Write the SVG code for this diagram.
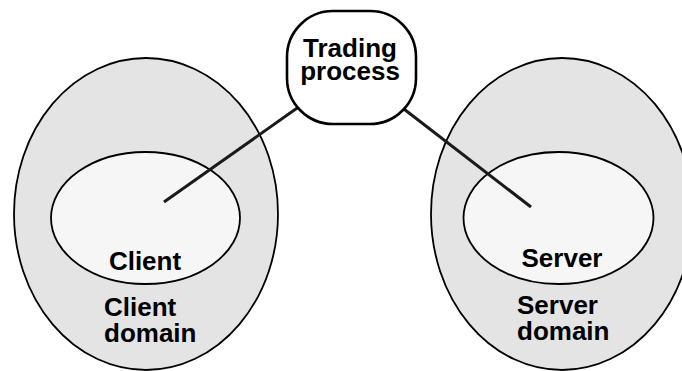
<svg xmlns="http://www.w3.org/2000/svg" width="682" height="371" viewBox="0 0 682 371">
<style>
.outer{fill:#e4e4e4;stroke:#000;stroke-width:1.8}
.inner{fill:#f6f6f6;stroke:#000;stroke-width:1.8}
.lbl{font-family:"Liberation Sans",Arial,sans-serif;font-weight:bold;font-size:26px;fill:#000}
.conn{stroke:#1a1a1a;stroke-width:3;fill:none}
</style>
<rect width="682" height="371" fill="#fff"/>
<g id="client-domain">
<ellipse class="outer" cx="146" cy="214" rx="132" ry="156"/>
<text class="lbl" x="104" y="316">Client</text>
<text class="lbl" x="104" y="342">domain</text>
</g>
<g id="server-domain">
<ellipse class="outer" cx="562" cy="214" rx="131" ry="156"/>
<text class="lbl" x="517" y="314">Server</text>
<text class="lbl" x="517" y="340">domain</text>
</g>
<g id="client">
<ellipse class="inner" cx="145.5" cy="218" rx="94.5" ry="66"/>
<text class="lbl" x="145" y="270" text-anchor="middle">Client</text>
</g>
<g id="server">
<ellipse class="inner" cx="558.5" cy="218" rx="95" ry="66"/>
<text class="lbl" x="562" y="267" text-anchor="middle">Server</text>
</g>
<g id="connectors">
<line class="conn" x1="164" y1="202" x2="300" y2="106"/>
<line class="conn" x1="531" y1="207" x2="400" y2="106"/>
</g>
<g id="trading-process">
<rect x="287" y="11" width="129" height="113" rx="46" ry="46" fill="#fff" stroke="#000" stroke-width="2.6"/>
<text class="lbl" x="350" y="57" text-anchor="middle">Trading</text>
<text class="lbl" x="350" y="80" text-anchor="middle">process</text>
</g>
</svg>
